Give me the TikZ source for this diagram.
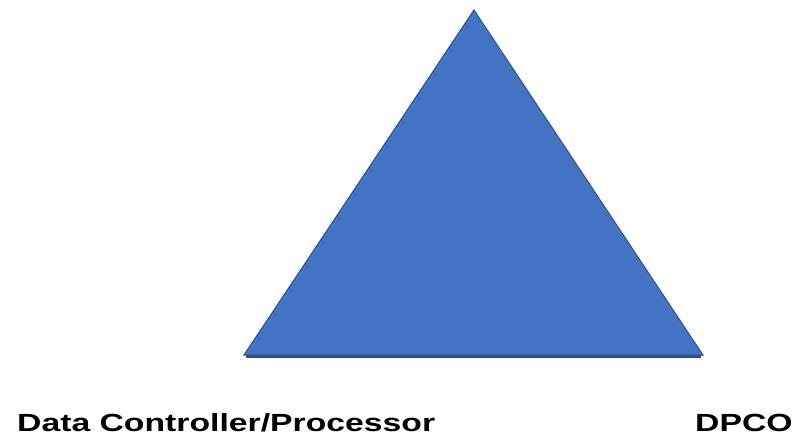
\documentclass[tikz,border=0pt]{standalone}
\usepackage{fontspec}
\setmainfont{Liberation Sans}
\newfontfamily\widefont[FakeStretch=1.36]{Liberation Sans}
\definecolor{tfill}{HTML}{4472C4}
\definecolor{tline}{HTML}{2F528F}
\begin{document}
\begin{tikzpicture}[x=1pt,y=-1pt,
  lbl/.style={font=\widefont\fontsize{24.8}{28}\selectfont\bfseries, inner sep=0pt, anchor=base west}]
\useasboundingbox (0,0) rectangle (793,439);
\coordinate (apex) at (474,10);
\coordinate (bl) at (244,355);
\coordinate (br) at (703,355);
\filldraw[fill=tfill, draw=tline, line width=1pt, line join=miter] (apex) -- (br) -- (bl) -- cycle;
\draw[tline, line width=3pt] ([xshift=2pt,yshift=-1pt]bl) -- ([xshift=-2pt,yshift=-1pt]br);
\node[lbl] (left) at (17,431) {Data Controller/Processor};
\node[lbl] (right) at (695,431) {DPCO};
\end{tikzpicture}
\end{document}
